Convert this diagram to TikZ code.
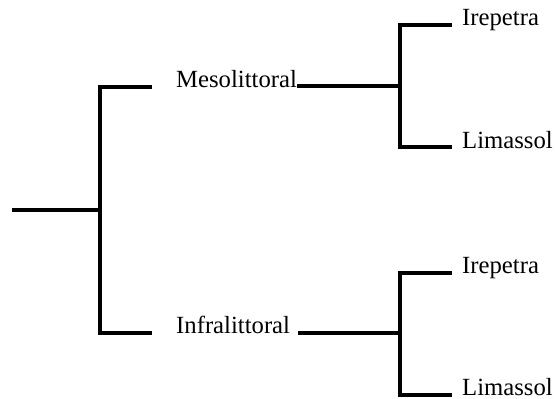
\documentclass[tikz,border=0pt]{standalone}
\usepackage{fontspec}
\setmainfont{Liberation Serif}
\begin{document}
\begin{tikzpicture}[x=1pt,y=-1pt,
  lbl/.style={anchor=base west,inner sep=0pt,font=\fontsize{24.7}{30}\selectfont},
  branch/.style={line width=3.3pt,line join=miter}]
\useasboundingbox (0,0) rectangle (555,399);
% labels
\node[lbl] (meso) at (176,87) {Mesolittoral};
\node[lbl] (infra) at (176,333) {Infralittoral};
\node[lbl] (ire1) at (462,25) {Irepetra};
\node[lbl] (lim1) at (462,148) {Limassol};
\node[lbl] (ire2) at (462,273) {Irepetra};
\node[lbl] (lim2) at (462,395) {Limassol};
% junction coordinates
\coordinate (root) at (12,210);
\coordinate (j0) at (100,210);
\coordinate (j0t) at (100,87);
\coordinate (j0b) at (100,333);
\coordinate (mend) at (152,87);
\coordinate (iend) at (152,333);
\coordinate (j1) at (400,86);
\coordinate (j1t) at (400,25);
\coordinate (j1b) at (400,147);
\coordinate (e1t) at (452,25);
\coordinate (e1b) at (452,147);
\coordinate (istart) at (298,333);
\coordinate (j2) at (400,333);
\coordinate (j2t) at (400,273);
\coordinate (j2b) at (400,395);
\coordinate (e2t) at (452,273);
\coordinate (e2b) at (452,395);
% tree
\draw[branch] (root) -- (j0);
\draw[branch] (mend) -- (j0t) -- (j0b) -- (iend);
\draw[branch] (meso.base east |- j1) -- (j1);
\draw[branch] (e1t) -- (j1t) -- (j1b) -- (e1b);
\draw[branch] (istart) -- (j2);
\draw[branch] (e2t) -- (j2t) -- (j2b) -- (e2b);
\end{tikzpicture}
\end{document}
